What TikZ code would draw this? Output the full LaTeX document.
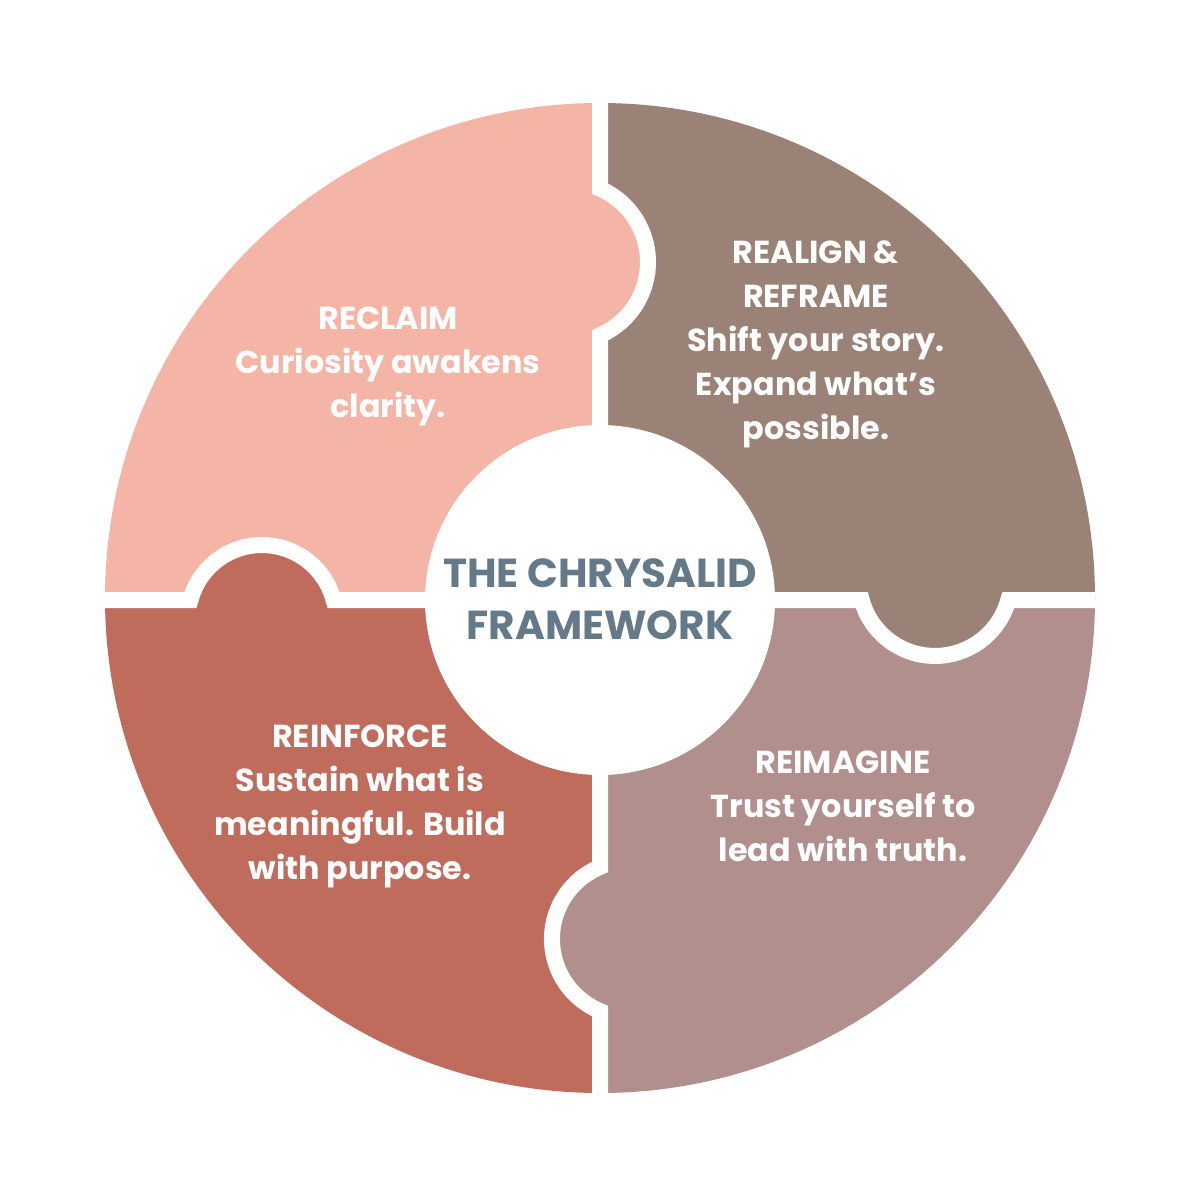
\documentclass[tikz,border=0pt]{standalone}
\usepackage{fontspec}
\setmainfont{Poppins}
\definecolor{cTL}{HTML}{F4B5A7}
\definecolor{cTR}{HTML}{9A8276}
\definecolor{cBR}{HTML}{B08F8C}
\definecolor{cBL}{HTML}{C06C5D}
\definecolor{cMid}{HTML}{657A89}
\begin{document}
\begin{tikzpicture}[x=1pt,y=-1pt,
  gap/.style={draw=white,line width=16pt},
  lbl/.style={text=white,align=center,inner sep=0pt,font=\fontsize{31.8}{44}\selectfont\bfseries},
  midlbl/.style={text=cMid,align=center,inner sep=0pt,font=\fontsize{40.5}{52}\selectfont\bfseries}]
\useasboundingbox (0,0) rectangle (1200,1200);
\fill[white] (0,0) rectangle (1200,1200);
\begin{scope}
  \clip (600,598) circle[radius=495];
  \fill[cTL] (0,0) rectangle (600,600);
  \fill[cTR] (600,0) rectangle (1200,600);
  \fill[cBR] (600,600) rectangle (1200,1200);
  \fill[cBL] (0,600) rectangle (600,1200);
  \fill[cTL] (568,262) circle[radius=80];
  \fill[cTR] (935,580) circle[radius=76];
  \fill[cBR] (630,939) circle[radius=78];
  \fill[cBL] (262,619) circle[radius=74];
  \draw[gap] (600,0) -- (600,188.7) arc[start angle=-66.4,end angle=66.4,radius=80]
     -- (600,867) arc[start angle=247.4,end angle=112.6,radius=78] -- (600,1200);
  \draw[gap] (0,600) -- (190.5,600) arc[start angle=194.9,end angle=345.1,radius=74]
     -- (861.7,600) arc[start angle=164.7,end angle=15.3,radius=76] -- (1200,600);
\end{scope}
\node[circle,fill=white,minimum size=350pt,inner sep=0pt] (hub) at (600,600) {};
\node[midlbl] (title) at (600,599) {THE CHRYSALID\\FRAMEWORK};
\node[lbl] (reclaim) at (388,366) {RECLAIM\\Curiosity awakens\\clarity.};
\node[lbl] (realign) at (816,344) {REALIGN \&\\REFRAME\\Shift your story.\\Expand what’s\\possible.};
\node[lbl] (reimagine) at (843,806) {REIMAGINE\\Trust yourself to\\lead with truth.};
\node[lbl] (reinforce) at (360,806) {REINFORCE\\Sustain what is\\meaningful. Build\\with purpose.};
\end{tikzpicture}
\end{document}
